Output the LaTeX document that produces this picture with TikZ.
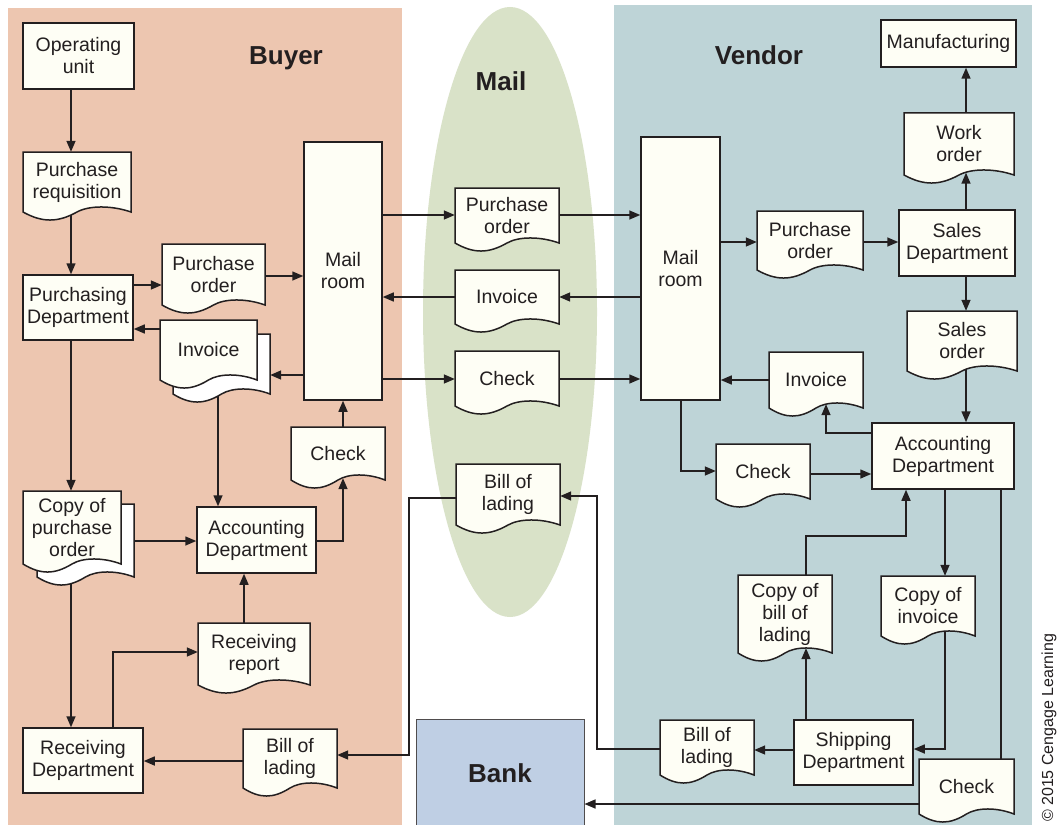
\documentclass[tikz,border=0pt]{standalone}
\usepackage{fontspec}
\setmainfont{Liberation Sans}
\usetikzlibrary{arrows.meta,calc}
\pgfdeclarelayer{panels}
\pgfdeclarelayer{wires}
\pgfsetlayers{panels,wires,main}

\definecolor{buyerbg}{HTML}{EDC6B0}
\definecolor{vendorbg}{HTML}{BED4D7}
\definecolor{mailbg}{HTML}{D9E2C8}
\definecolor{bankbg}{HTML}{BFCFE4}
\definecolor{paper}{HTML}{FEFEF5}
\definecolor{ink}{HTML}{231F20}

\newcommand\lblfont{\fontsize{19.5}{22}\selectfont}
\newcommand\ttlfont{\fontsize{26}{30}\selectfont\bfseries}

% rectangular process box: name, x0, y0, x1, y1, text
\newcommand\boxnode[6]{%
  \node[box, minimum width={(#4-#2)*1pt}, minimum height={(#5-#3)*1pt}]
    (#1) at ({(#2+#4)/2},{(#3+#5)/2}) {#6};}

% document symbol with wavy bottom: name, x0, y0, x1, ybottom, fill, text
\newcommand\docnode[7]{%
  \path[docline, fill=#6] (#2,#3) -- (#4,#3) -- (#4,#5)
    .. controls ({#2+0.82*(#4-#2)},{#5-6.7}) and ({#2+0.613*(#4-#2)},{#5-6.7}) .. ({(#2+#4)/2},#5)
    .. controls ({#2+0.32*(#4-#2)},{#5+10.7}) and ({#2+0.18*(#4-#2)},{#5+10.7}) .. (#2,#5) -- cycle;
  \node[doctext, minimum width={(#4-#2)*1pt}, minimum height={(#5-#3)*1pt}]
    (#1) at ({(#2+#4)/2},{(#3+#5)/2}) {#7};}

\tikzset{
  box/.style={draw=ink, line width=1.5pt, fill=paper, inner sep=0pt,
    align=center, font=\lblfont, text=ink},
  doctext/.style={inner sep=0pt, align=center, font=\lblfont, text=ink},
  docline/.style={draw=ink, line width=1.5pt},
  arr/.style={draw=ink, line width=1.5pt, -{Triangle[length=11pt,width=9pt]}},
  conn/.style={draw=ink, line width=1.5pt},
  ttl/.style={font=\ttlfont, text=ink, anchor=base, inner sep=0pt}
}

\begin{document}
\begin{tikzpicture}[x=1pt,y=-1pt]
\useasboundingbox (0,0) rectangle (1059,824);

% ---------- background regions ----------
\begin{pgfonlayer}{panels}
  \fill[white] (0,0) rectangle (1059,824);
  \fill[buyerbg] (8,8) rectangle (402,826);
  \fill[vendorbg] (614,5) rectangle (1032,826);
  \fill[mailbg] (510,312) ellipse [x radius=87, y radius=305];
  \node[draw=ink!80, line width=1pt, fill=bankbg, inner sep=0pt,
        minimum width=168pt, minimum height=107pt] (bank) at (500,772.5) {};
\end{pgfonlayer}

\node[ttl] (tbuyer) at (286,65) {Buyer};
\node[ttl] (tmail) at (501,91) {Mail};
\node[ttl] (tvendor) at (759,65) {Vendor};
\node[ttl] (tbank) at (500,782) {Bank};
\node[rotate=90, font=\fontsize{16}{18}\selectfont, text=ink, inner sep=0pt]
  (copyr) at (1049,728) {© 2015 Cengage Learning};

% ---------- buyer ----------
\boxnode{opu}{23}{23}{134}{89}{Operating\\unit}
\docnode{preq}{23}{152}{131}{212}{paper}{Purchase\\requisition}
\boxnode{pdep}{23}{275}{133}{340}{Purchasing\\Department}
\docnode{poB}{162}{244}{265}{305}{paper}{Purchase\\order}
\docnode{invBb}{173}{334}{270}{394}{white}{}
\docnode{invB}{160}{320}{257}{380}{paper}{Invoice}
\boxnode{mrB}{304}{142}{382}{400}{Mail\\room}
\docnode{chkB}{291}{427}{385}{480}{paper}{Check}
\docnode{cpoB}{37}{504}{134}{577}{white}{}
\docnode{cpo}{23}{491}{121}{564}{paper}{Copy of\\purchase\\order}
\boxnode{accB}{197}{507}{316}{573}{Accounting\\Department}
\docnode{rrep}{198}{623}{310}{685}{paper}{Receiving\\report}
\boxnode{rdep}{23}{728}{143}{793}{Receiving\\Department}
\docnode{bolB}{243}{729}{337}{788}{paper}{Bill of\\lading}

% ---------- mail ----------
\docnode{poM}{455}{188}{559}{243}{paper}{Purchase\\order}
\docnode{invM}{455}{270}{559}{324}{paper}{Invoice}
\docnode{chkM}{455}{351}{559}{406}{paper}{Check}
\docnode{bolM}{456}{464}{560}{525}{paper}{Bill of\\lading}

% ---------- vendor ----------
\boxnode{mrV}{641}{137}{720}{400}{Mail\\room}
\docnode{poV}{757}{211}{863}{270}{paper}{Purchase\\order}
\boxnode{sdep}{899}{210}{1015}{276}{Sales\\Department}
\docnode{wo}{904}{113}{1014}{175}{paper}{Work\\order}
\boxnode{mfg}{881}{20}{1016}{67}{Manufacturing}
\docnode{so}{907}{311}{1017}{371}{paper}{Sales\\order}
\docnode{invV}{769}{352}{863}{408}{paper}{Invoice}
\boxnode{accV}{872}{423}{1014}{489}{Accounting\\Department}
\docnode{chkV}{716}{444}{810}{499}{paper}{Check}
\docnode{cbol}{738}{575}{832}{653}{paper}{Copy of\\bill of\\lading}
\docnode{cinv}{881}{576}{975}{636}{paper}{Copy of\\invoice}
\boxnode{shdep}{794}{720}{913}{785}{Shipping\\Department}
\docnode{bolV}{660}{720}{754}{775}{paper}{Bill of\\lading}
\docnode{chkW}{919}{759}{1014}{814}{paper}{Check}

% ---------- flows ----------
\begin{pgfonlayer}{wires}
  % buyer side
  \draw[arr] (opu.south -| 71,0) -- (preq.north -| 71,0);
  \draw[arr] (preq.center -| 71,0) -- (pdep.north -| 71,0);
  \draw[arr] (pdep.east |- 0,285) -- (poB.west |- 0,285);
  \draw[arr] (poB.east |- 0,276) -- (mrB.west |- 0,276);
  \draw[arr] (mrB.west |- 0,375) -- (invBb.east |- 0,375);
  \draw[arr] (invB.west |- 0,329) -- (pdep.east |- 0,329);
  \draw[arr] (invB.center -| 218,0) -- (accB.north -| 218,0);
  \draw[arr] (pdep.south -| 71,0) -- (cpo.north -| 71,0);
  \draw[arr] (cpoB.east |- 0,541) -- (accB.west |- 0,541);
  \draw[arr] (cpo.center -| 71,0) -- (rdep.north -| 71,0);
  \draw[arr] (rdep.north -| 113,0) |- (rrep.west |- 0,652);
  \draw[arr] (rrep.north -| 244,0) -- (accB.south -| 244,0);
  \draw[arr] (accB.east |- 0,541) -| ($(chkB.south)+(5,-2)$);
  \draw[arr] (chkB.north -| 343,0) -- (mrB.south -| 343,0);
  \draw[arr] (bolB.west |- 0,761) -- (rdep.east |- 0,761);
  % through the mail
  \draw[arr] (mrB.east |- 0,215) -- (poM.west |- 0,215);
  \draw[arr] (invM.west |- 0,297) -- (mrB.east |- 0,297);
  \draw[arr] (mrB.east |- 0,379) -- (chkM.west |- 0,379);
  \draw[arr] (bolM.west |- 0,498) -- (409,498) |- (bolB.east |- 0,755);
  \draw[arr] (poM.east |- 0,215) -- (mrV.west |- 0,215);
  \draw[arr] (mrV.west |- 0,297) -- (invM.east |- 0,297);
  \draw[arr] (chkM.east |- 0,379) -- (mrV.west |- 0,379);
  \draw[arr] (bolV.west |- 0,749) -- (597,749) |- (bolM.east |- 0,496);
  % vendor side
  \draw[arr] (mrV.east |- 0,242) -- (poV.west |- 0,242);
  \draw[arr] (poV.east |- 0,242) -- (sdep.west |- 0,242);
  \draw[arr] (sdep.north -| 966,0) -- ($(wo.south)+(7,-2.5)$);
  \draw[arr] (wo.north -| 966,0) -- (mfg.south -| 966,0);
  \draw[arr] (sdep.south -| 966,0) -- (so.north -| 966,0);
  \draw[arr] (so.center -| 966,0) -- (accV.north -| 966,0);
  \draw[arr] (accV.west |- 0,433) -| ($(invV.south)+(10,-4)$);
  \draw[arr] (invV.west |- 0,380) -- (mrV.east |- 0,380);
  \draw[arr] (mrV.south -| 681,0) |- (chkV.west |- 0,471);
  \draw[arr] (chkV.east |- 0,474) -- (accV.west |- 0,474);
  \draw[arr] (accV.south -| 945,0) -- (cinv.north -| 945,0);
  \draw[arr] (cinv.center -| 945,0) |- (shdep.east |- 0,749);
  \draw[arr] (shdep.north -| 806,0) -- ($(cbol.south)+(21,-5)$);
  \draw[arr] (cbol.north -| 806,0) -- (806,536) -| (accV.south -| 906,0);
  \draw[arr] (shdep.west |- 0,750) -- (bolV.east |- 0,750);
  \draw[conn] (accV.south -| 1001,0) -- (chkW.north -| 1001,0);
  \draw[arr] (chkW.west |- 0,804) -- (bank.east |- 0,804);
\end{pgfonlayer}
\end{tikzpicture}
\end{document}
